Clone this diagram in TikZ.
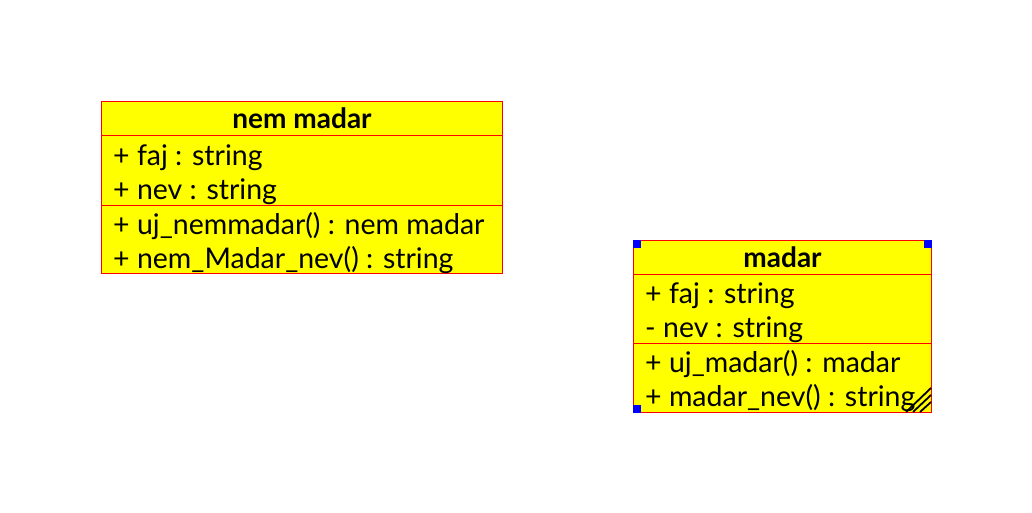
\documentclass[tikz,border=0pt]{standalone}
\usepackage{fontspec}
\setmainfont{Lato}
\usetikzlibrary{positioning}
\definecolor{classyellow}{RGB}{255,255,0}
\definecolor{borderred}{RGB}{255,0,0}
\definecolor{handleblue}{RGB}{0,0,255}

\begin{document}
\begin{tikzpicture}[
    x=1pt, y=-1pt,
    classbox/.style={draw=borderred, fill=classyellow, line width=1pt, anchor=north west, inner sep=0pt},
    sepline/.style={draw=borderred, line width=1pt},
    title/.style={font=\fontsize{28}{32}\selectfont\bfseries, anchor=base, inner sep=0pt},
    member/.style={font=\fontsize{28.5}{32}\selectfont, anchor=base west, inner sep=0pt},
    handle/.style={fill=handleblue, inner sep=0pt, minimum size=8pt, anchor=center},
    hatch/.style={draw=black, line width=1.8pt}
]
\useasboundingbox (0,0) rectangle (1032,513);

% Class box: nem madar
\node[classbox, minimum width=401pt, minimum height=172pt] (nemmadar) at (101,101) {};
\draw[sepline] ([yshift=-34.5pt]nemmadar.north west) -- ([yshift=-34.5pt]nemmadar.north east);
\draw[sepline] ([yshift=-104pt]nemmadar.north west) -- ([yshift=-104pt]nemmadar.north east);
\node[title] (nm-title) at ([yshift=-28pt]nemmadar.north) {nem madar};
\node[member] (nm-faj) at ([xshift=12pt,yshift=-64.5pt]nemmadar.north west) {+ faj : string};
\node[member] (nm-nev) at ([xshift=12pt,yshift=-98.5pt]nemmadar.north west) {+ nev : string};
\node[member] (nm-uj) at ([xshift=12pt,yshift=-133pt]nemmadar.north west) {+ uj\_nemmadar() : nem madar};
\node[member] (nm-nevm) at ([xshift=12pt,yshift=-167.5pt]nemmadar.north west) {+ nem\_Madar\_nev() : string};

% Class box: madar (selected)
\node[classbox, minimum width=298pt, minimum height=172pt] (madar) at (633,240) {};
\draw[sepline] ([yshift=-34pt]madar.north west) -- ([yshift=-34pt]madar.north east);
\draw[sepline] ([yshift=-103pt]madar.north west) -- ([yshift=-103pt]madar.north east);
\node[title] (m-title) at ([yshift=-27.5pt]madar.north) {madar};
\node[member] (m-faj) at ([xshift=12pt,yshift=-63.5pt]madar.north west) {+ faj : string};
\node[member] (m-nev) at ([xshift=12pt,yshift=-97.5pt]madar.north west) {- nev : string};
\node[member] (m-uj) at ([xshift=12pt,yshift=-132pt]madar.north west) {+ uj\_madar() : madar};
\node[member] (m-nevm) at ([xshift=12pt,yshift=-166.5pt]madar.north west) {+ madar\_nev() : string};

% Selection handles
\node[handle] (h-nw) at ([xshift=4pt,yshift=-4pt]madar.north west) {};
\node[handle] (h-ne) at ([xshift=-4pt,yshift=-4pt]madar.north east) {};
\node[handle] (h-sw) at ([xshift=4pt,yshift=4pt]madar.south west) {};

% Resize grip
\foreach \d in {0,7,14} {
    \draw[hatch] ([xshift={-26pt+\d pt},yshift=1pt]madar.south east) -- ([xshift=-1pt,yshift={25pt-\d pt}]madar.south east);
}

\end{tikzpicture}
\end{document}
